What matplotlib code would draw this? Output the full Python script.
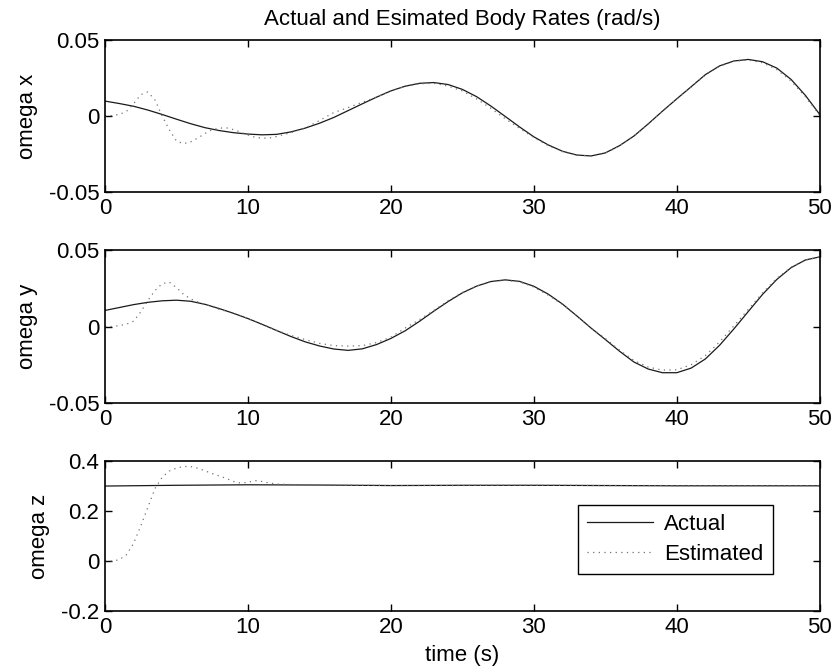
import numpy as np
import matplotlib
matplotlib.use("Agg")
import matplotlib.pyplot as plt

plt.rcParams['font.family'] = ['Liberation Sans', 'DejaVu Sans']
plt.rcParams['axes.unicode_minus'] = False

# time grids (s)
t = np.arange(0, 51, 1.0)
t_est = np.concatenate([np.arange(0, 12.5, 0.5), np.arange(13, 51, 1.0)])
t_z = np.arange(0, 51, 5.0)

# actual body rates (1 s steps)
wx_act = [0.0098, 0.0082, 0.0064, 0.0039, 0.0010, -0.0021, -0.0051, -0.0077, -0.0096, -0.0110,
          -0.0119, -0.0124, -0.0121, -0.0105, -0.0080, -0.0048, -0.0010, 0.0035, 0.0080, 0.0124,
          0.0165, 0.0196, 0.0215, 0.0220, 0.0207, 0.0175, 0.0127, 0.0065, -0.0003, -0.0072,
          -0.0137, -0.0190, -0.0232, -0.0257, -0.0263, -0.0243, -0.0195, -0.0132, -0.0052, 0.0032,
          0.0113, 0.0192, 0.0272, 0.0330, 0.0362, 0.0372, 0.0357, 0.0315, 0.0240, 0.0135, 0.0010]
wy_act = [0.0105, 0.0124, 0.0143, 0.0158, 0.0168, 0.0172, 0.0165, 0.0145, 0.0117, 0.0086,
          0.0052, 0.0014, -0.0026, -0.0065, -0.0100, -0.0127, -0.0147, -0.0156, -0.0146, -0.0118,
          -0.0078, -0.0028, 0.0034, 0.0100, 0.0163, 0.0220, 0.0264, 0.0294, 0.0305, 0.0295,
          0.0263, 0.0212, 0.0147, 0.0070, -0.0010, -0.0085, -0.0162, -0.0232, -0.0278, -0.0302,
          -0.0302, -0.0272, -0.0212, -0.0122, -0.0015, 0.0098, 0.0210, 0.0308, 0.0385, 0.0435, 0.0455]
wz_act = [0.300, 0.303, 0.305, 0.304, 0.302, 0.303, 0.303, 0.302, 0.301, 0.301, 0.301]

# estimated body rates (0.5 s steps up to 12 s, then 1 s)
wx_est = [0.0, 0.0003, 0.0010, 0.0030, 0.0080, 0.0140, 0.0158, 0.0105, 0.0000, -0.0090,
          -0.0165, -0.0182, -0.0170, -0.0145, -0.0115, -0.0090, -0.0080, -0.0078, -0.0090, -0.0107,
          -0.0125, -0.0140, -0.0146, -0.0145, -0.0135,
          -0.0110, -0.0080, -0.0030, 0.0022, 0.0055, 0.0090, 0.0125, 0.0165, 0.0195, 0.0212,
          0.0215, 0.0197, 0.0165, 0.0112, 0.0050, -0.0018, -0.0082, -0.0142, -0.0195, -0.0234,
          -0.0257, -0.0263, -0.0245, -0.0197, -0.0132, -0.0054, 0.0032, 0.0113, 0.0190, 0.0270,
          0.0328, 0.0360, 0.0368, 0.0350, 0.0305, 0.0230, 0.0125, 0.0005]
wy_est = [0.0, 0.0, 0.0006, 0.0015, 0.0035, 0.0095, 0.0170, 0.0235, 0.0280, 0.0290,
          0.0255, 0.0210, 0.0180, 0.0160, 0.0145, 0.0130, 0.0112, 0.0100, 0.0085, 0.0070,
          0.0052, 0.0035, 0.0012, -0.0005, -0.0025,
          -0.0058, -0.0085, -0.0110, -0.0125, -0.0128, -0.0125, -0.0105, -0.0070, -0.0010, 0.0045,
          0.0105, 0.0168, 0.0222, 0.0265, 0.0294, 0.0302, 0.0292, 0.0258, 0.0205, 0.0145,
          0.0068, -0.0010, -0.0078, -0.0155, -0.0222, -0.0265, -0.0285, -0.0283, -0.0250, -0.0190,
          -0.0100, 0.0005, 0.0112, 0.0220, 0.0315, 0.0388, 0.0435, 0.0455]
wz_est = [0.0, 0.0, 0.005, 0.025, 0.070, 0.140, 0.215, 0.290, 0.335, 0.360,
          0.372, 0.378, 0.378, 0.371, 0.361, 0.350, 0.340, 0.330, 0.318, 0.312,
          0.315, 0.322, 0.318, 0.312, 0.308,
          0.306, 0.305, 0.304, 0.304, 0.303, 0.303, 0.303, 0.302, 0.302, 0.302,
          0.302, 0.302, 0.302, 0.303, 0.303, 0.303, 0.303, 0.303, 0.303, 0.303,
          0.303, 0.302, 0.302, 0.302, 0.302, 0.302, 0.302, 0.301, 0.301, 0.301,
          0.301, 0.301, 0.301, 0.301, 0.301, 0.301, 0.301, 0.301]

x_ticks = [0, 10, 20, 30, 40, 50]
xy_ticks = [-0.05, 0, 0.05]
xy_labels = ['-0.05', '0', '0.05']
z_ticks = [-0.2, 0, 0.2, 0.4]
z_labels = ['-0.2', '0', '0.2', '0.4']

fs = 16
fig = plt.figure(figsize=(8.37, 6.71), dpi=100)

rects = [[0.1254, 0.7139, 0.854, 0.2265],
         [0.1254, 0.3994, 0.854, 0.2280],
         [0.1254, 0.0894, 0.854, 0.2235]]
series = [(t, wx_act, wx_est, 'omega x', xy_ticks, xy_labels, (-0.05, 0.05)),
          (t, wy_act, wy_est, 'omega y', xy_ticks, xy_labels, (-0.05, 0.05)),
          (t_z, wz_act, wz_est, 'omega z', z_ticks, z_labels, (-0.2, 0.4))]

axes = []
for rect, (ta, act, est, lab, yt, yl, lim) in zip(rects, series):
    ax = fig.add_axes(rect)
    ax.plot(ta, act, color='0.1', lw=0.9, label='Actual')
    ax.plot(t_est, est, color='0.45', lw=0.9, ls=(0, (1, 3.5)), label='Estimated')
    ax.set_xlim(0, 50)
    ax.set_ylim(*lim)
    ax.set_xticks(x_ticks)
    ax.set_xticklabels([str(v) for v in x_ticks])
    ax.set_yticks(yt)
    ax.set_yticklabels(yl)
    ax.set_ylabel(lab, fontsize=fs, labelpad=8)
    ax.tick_params(direction='in', top=True, right=True, length=5, width=1,
                   labelsize=fs, pad=4)
    for s in ax.spines.values():
        s.set_linewidth(1.2)
    axes.append(ax)

axes[0].set_title('Actual and Esimated Body Rates (rad/s)', fontsize=fs, pad=11)
axes[2].set_xlabel('time (s)', fontsize=fs, labelpad=5)
leg = axes[2].legend(loc='lower right', bbox_to_anchor=(0.934, 0.247), borderaxespad=0,
                     fontsize=fs, frameon=True, fancybox=False, framealpha=1,
                     edgecolor='black', handlelength=3.0, borderpad=0.4,
                     labelspacing=0.4, handletextpad=0.5)
leg.get_frame().set_linewidth(1.0)

fig.savefig('out.png', dpi=100)
